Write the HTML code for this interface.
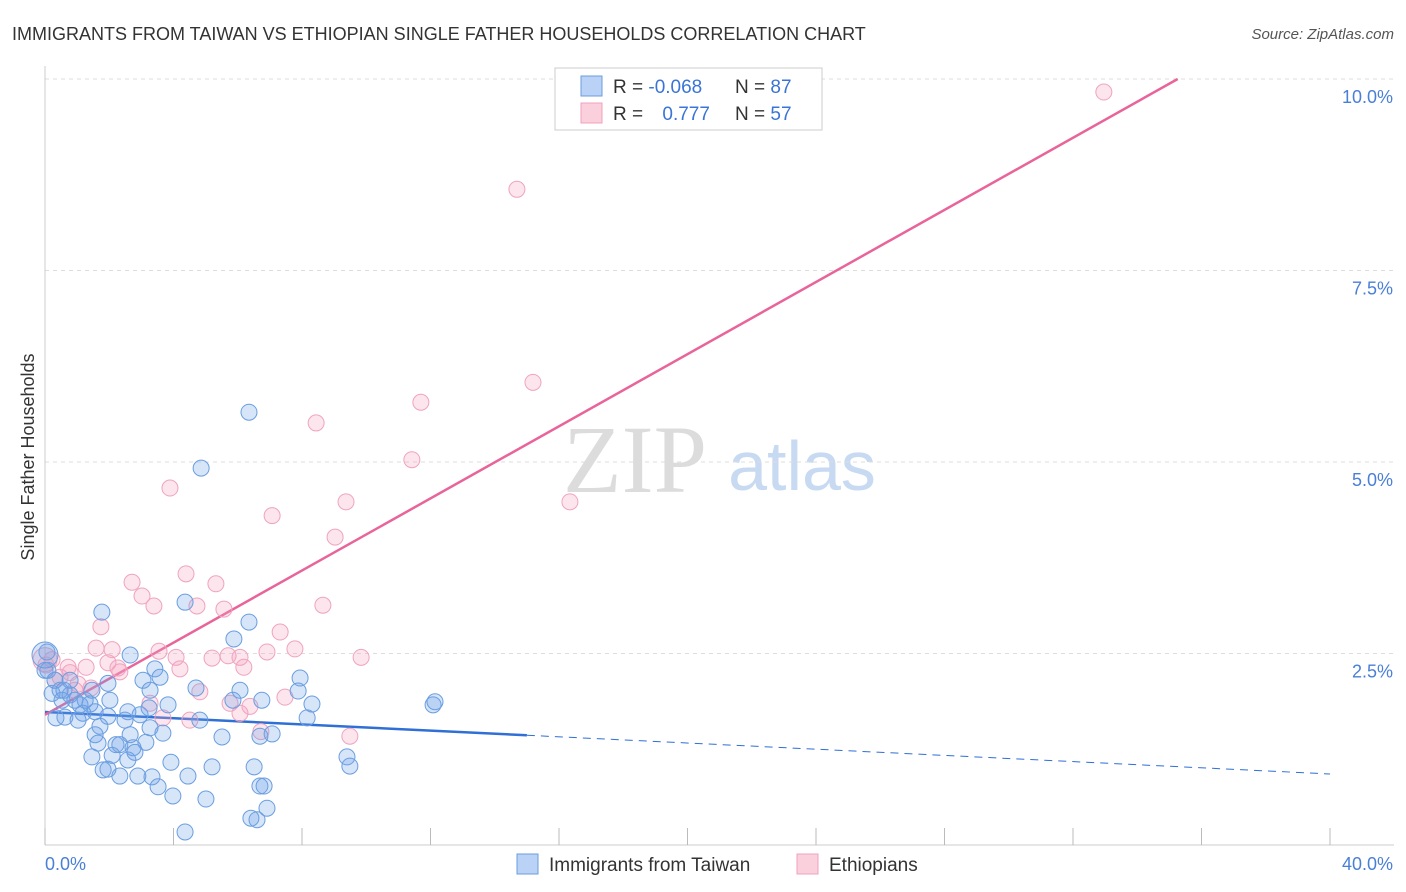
<!DOCTYPE html>
<html><head><meta charset="utf-8"><style>
body{margin:0;background:#fff;font-family:"Liberation Sans",sans-serif;}
svg{display:block}
</style></head><body>
<svg id="chart" width="1406" height="892">
<text x="12" y="40" font-size="18" fill="#333">IMMIGRANTS FROM TAIWAN VS ETHIOPIAN SINGLE FATHER HOUSEHOLDS CORRELATION CHART</text>
<text x="1394" y="39" font-size="15" fill="#555" font-style="italic" text-anchor="end">Source: ZipAtlas.com</text>
<text transform="translate(34,457) rotate(-90)" font-size="18" fill="#333" text-anchor="middle">Single Father Households</text>
<g>
<text x="635" y="492" font-size="96" font-family="Liberation Serif,serif" fill="#dcdcdc" text-anchor="middle">ZIP</text>
<text x="802" y="490" font-size="70" fill="#c8daf2" text-anchor="middle">atlas</text>
</g>
<g id="grid"></g><g id="axes"></g><g id="lines"></g><g id="pts"></g>
<g>
<rect x="555" y="68" width="267" height="62" fill="#fff" stroke="#ccc"/>
<rect x="581" y="76" width="21" height="20" fill="#b9d2f5" stroke="#6a9ee0"/>
<rect x="581" y="103" width="21" height="20" fill="#fbd0dd" stroke="#f0a0bc"/>
<text x="613" y="93" font-size="19" fill="#333">R = <tspan fill="#3a74d6">-0.068</tspan></text>
<text x="735" y="93" font-size="19" fill="#333">N = <tspan fill="#3a74d6">87</tspan></text>
<text x="613" y="120" font-size="19" fill="#333">R = <tspan fill="#3a74d6" dx="14">0.777</tspan></text>
<text x="735" y="120" font-size="19" fill="#333">N = <tspan fill="#3a74d6">57</tspan></text>
</g>
<g>
<rect x="517" y="854" width="21" height="20" fill="#b9d2f5" stroke="#6a9ee0"/>
<text x="549" y="871" font-size="19" fill="#333">Immigrants from Taiwan</text>
<rect x="797" y="854" width="21" height="20" fill="#fbd0dd" stroke="#f0a0bc"/>
<text x="829" y="871" font-size="19" fill="#333">Ethiopians</text>
</g>
</svg>
<script>
const yTicks=[2.5,5,7.5,10];
const yTickLabels=["2.5%","5.0%","7.5%","10.0%"];
const xTicks=[0,4,8,12,16,20,24,28,32,36,40];
const taiwanX=[6.35,4.86,1.77,4.36,6.35,5.88,2.65,3.42,3.58,7.94,7.88,1.96,3.05,0.06,0,0.31,0.22,0.47,0.78,0.93,1.09,1.40,1.56,1.18,0.62,1.96,2.58,2.96,3.24,4.70,6.75,8.31,12.08,12.14,8.16,6.69,7.07,5.51,3.67,3.14,2.74,1.56,1.65,2.21,2.58,2.80,1.96,1.81,1.46,2.33,2.89,3.33,3.52,3.92,4.45,5.20,3.98,5.01,6.51,6.69,6.82,6.91,6.41,6.60,4.36,9.40,9.49,0.59,0.78,1.25,2.02,2.49,3.27,0.34,2.65,2.09,5.85,3.27,0.09,0.53,1.03,1.46,1.71,2.33,3.83,6.07,4.82];
const taiwanY=[5.65,4.92,3.04,3.17,2.91,2.69,2.48,2.30,2.19,2.18,2.01,2.11,2.15,2.52,2.28,2.15,1.98,2.02,1.96,1.89,1.83,1.84,1.74,1.72,1.67,1.68,1.74,1.70,1.79,2.05,1.89,1.84,1.83,1.87,1.66,1.42,1.45,1.41,1.46,1.34,1.27,1.44,1.33,1.31,1.11,1.21,0.99,0.98,1.15,0.90,0.90,0.89,0.76,1.08,0.90,1.02,0.64,0.60,1.02,0.77,0.77,0.48,0.35,0.33,0.17,1.15,1.03,2.02,2.15,1.89,1.89,1.63,2.02,1.66,1.44,1.17,1.89,1.53,2.28,1.89,1.63,2.02,1.55,1.31,1.83,2.02,1.63];
const ethX=[32.96,14.69,15.19,11.70,8.44,11.42,3.89,9.37,16.34,7.07,9.03,2.71,4.39,5.32,3.02,3.39,4.73,5.57,8.65,1.74,7.32,1.59,2.09,3.55,4.08,6.91,7.78,5.20,6.07,5.70,9.84,1.96,2.27,1.28,0.72,0.03,6.19,4.20,0.47,1.03,1.43,4.82,3.27,5.76,6.38,3.67,4.51,6.07,6.72,9.49,0.31,0.78,2.33,7.47,0.22,0.93,0];
const ethY=[9.83,8.56,6.04,5.78,5.51,5.03,4.66,4.48,4.48,4.30,4.02,3.43,3.54,3.41,3.25,3.12,3.12,3.08,3.13,2.85,2.78,2.57,2.55,2.53,2.45,2.52,2.56,2.44,2.45,2.47,2.45,2.38,2.31,2.32,2.32,2.35,2.32,2.30,2.19,2.10,2.05,2.00,1.85,1.85,1.81,1.66,1.63,1.72,1.48,1.42,2.15,2.25,2.26,1.93,2.42,2.02,2.42];
const taiwanTrend=[1.736,0.927]; // value at x=0 and x=40
const ethTrend=[1.70,0.2354]; // intercept, slope
const NS="http://www.w3.org/2000/svg";
const sx=v=>45+v*32.125, sy=v=>845-v*76.6;
function mk(tag,attrs,parent){const e=document.createElementNS(NS,tag);for(const k in attrs)e.setAttribute(k,attrs[k]);document.getElementById(parent).appendChild(e);return e;}
yTicks.forEach((t,i)=>{
 const l=mk('line',{x1:45,x2:1394,y1:sy(t),y2:sy(t),stroke:'#ddd','stroke-dasharray':'4,4'},'grid');
 
 
 const tx=mk('text',{x:1393,y:sy(t)+24,'font-size':18,fill:'#4a7fd6','text-anchor':'end'},'axes');
 tx.textContent=yTickLabels[i];
 
 
});
const ax=mk('line',{x1:45,x2:45,y1:66,y2:845,stroke:'#ccc'},'axes');


const bx=mk('line',{x1:45,x2:1394,y1:845,y2:845,stroke:'#ccc'},'axes');


xTicks.forEach(t=>{
 const l=mk('line',{x1:sx(t),x2:sx(t),y1:828,y2:845,stroke:'#bbb'},'axes');
 
 
});
const x0=mk('text',{x:45,y:870,'font-size':18,fill:'#4a7fd6'},'axes');x0.textContent='0.0%';


const x1=mk('text',{x:1393,y:870,'font-size':18,fill:'#4a7fd6','text-anchor':'end'},'axes');x1.textContent='40.0%';


function pt(x,y,r,fill,stroke,name){const c=mk('circle',{cx:sx(x),cy:sy(y),r:r,fill:fill,stroke:stroke,'stroke-width':1},'pts');
 
 }
ethX.forEach((x,i)=>pt(x,ethY[i],(x===0)?12:8,'rgba(244,160,190,0.28)','#f0a3bf','ethiopian-point'));
taiwanX.forEach((x,i)=>pt(x,taiwanY[i],8,'rgba(110,160,230,0.28)','#6a9ee0','taiwan-point'));
pt(0,2.48,13,'rgba(110,160,230,0.28)','#6a9ee0','taiwan-point');
const tAt=x=>taiwanTrend[0]+(taiwanTrend[1]-taiwanTrend[0])*x/40;
const tl=mk('line',{x1:sx(0),y1:sy(tAt(0)),x2:sx(15),y2:sy(tAt(15)),stroke:'#2f6fd6','stroke-width':2.5},'lines');


const td=mk('line',{x1:sx(15),y1:sy(tAt(15)),x2:sx(40),y2:sy(tAt(40)),stroke:'#2f6fd6','stroke-width':1,'stroke-dasharray':'8,6'},'lines');


const xe=(10-ethTrend[0])/ethTrend[1];
const el=mk('line',{x1:sx(0),y1:sy(ethTrend[0]),x2:sx(xe),y2:sy(10),stroke:'#e8649a','stroke-width':2.5},'lines');


</script>
</body></html>
